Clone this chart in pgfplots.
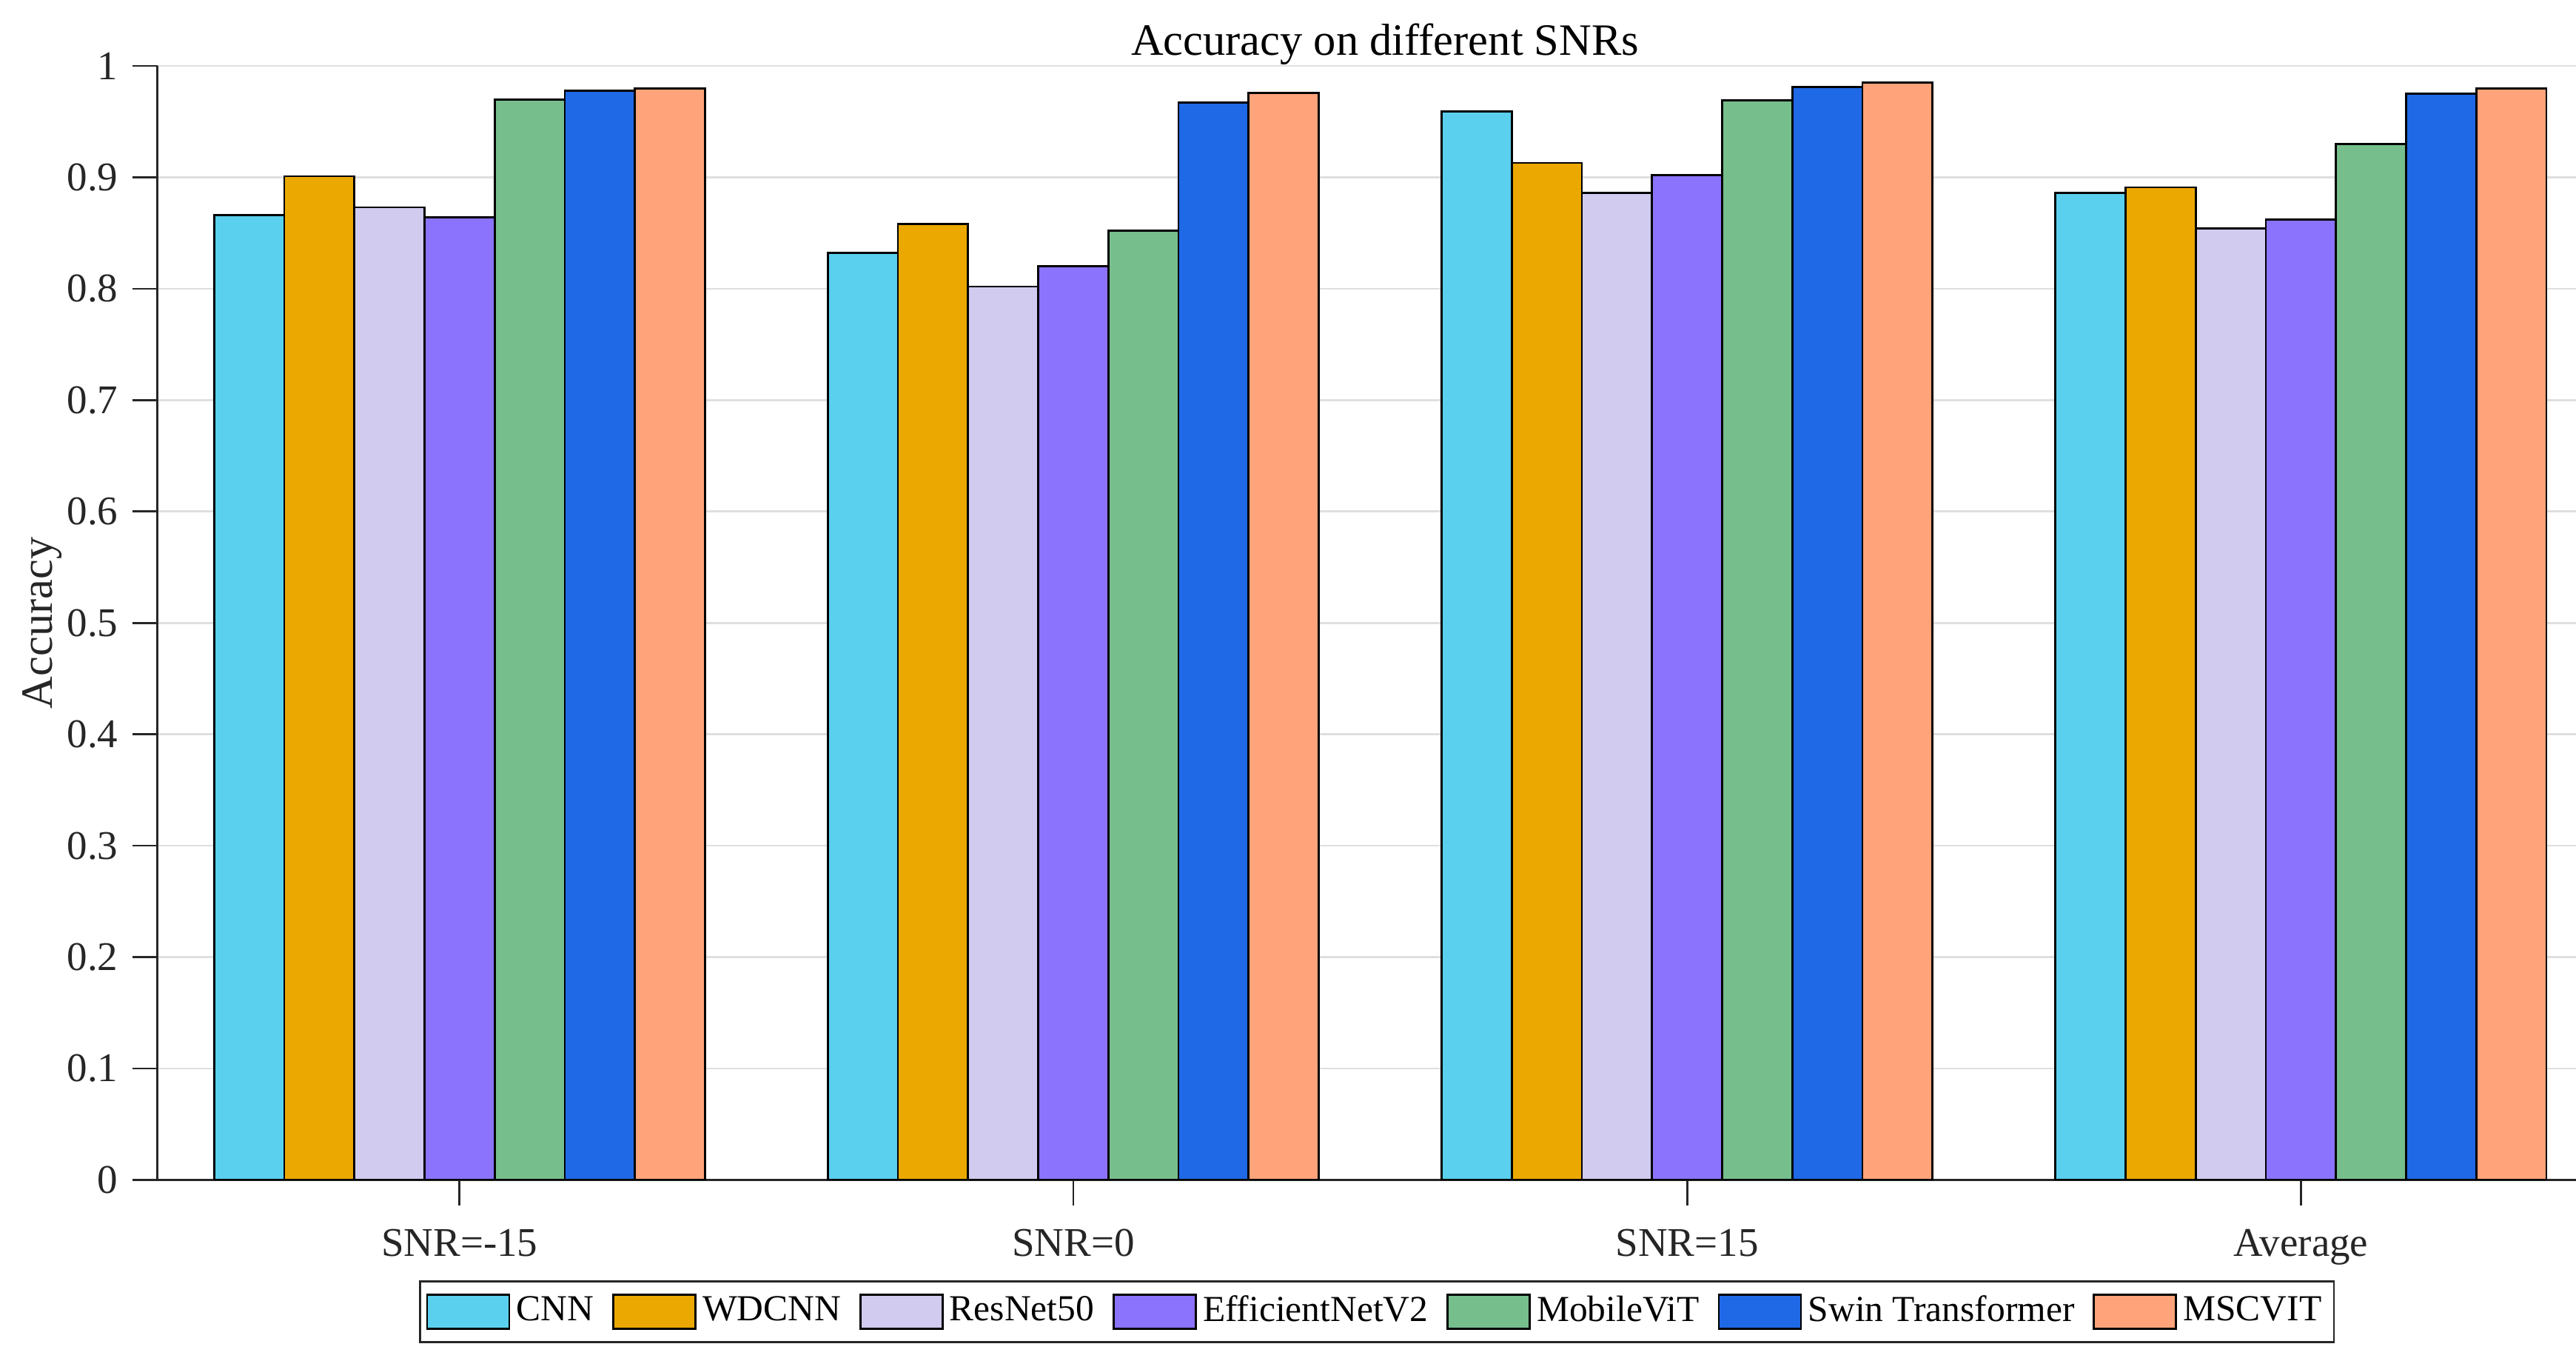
\documentclass[border=0pt]{standalone}
\usepackage{fontspec}
\setmainfont{Liberation Serif}
\usepackage{pgfplots}
\pgfplotsset{compat=1.18}

\definecolor{axgray}{RGB}{38,38,38}
\definecolor{gridgray}{RGB}{223,223,223}
\definecolor{cCNN}{RGB}{90,208,238}
\definecolor{cWDCNN}{RGB}{235,168,0}
\definecolor{cRes}{RGB}{208,203,239}
\definecolor{cEff}{RGB}{140,115,253}
\definecolor{cMob}{RGB}{119,190,141}
\definecolor{cSwin}{RGB}{31,105,230}
\definecolor{cMSC}{RGB}{255,163,122}

\begin{document}
\begin{tikzpicture}
\path[use as bounding box] (-38.7pt,-44.4pt) rectangle (594pt,289.7pt);
\begin{axis}[
  scale only axis,
  width=603pt, height=273.5pt,
  xmin=0.508, xmax=4.508, ymin=0, ymax=1,
  ybar,
  bar width=0.114286,
  every axis plot/.append style={
    draw=black, line width=0.5pt,
    legend image code/.code={\draw[##1] (0pt,-4.2pt) rectangle (20.2pt,4.2pt);}
  },
  axis x line*=bottom, axis y line*=left,
  axis line style={draw=axgray, line width=0.5pt, -},
  tick align=outside, major tick length=6.2pt,
  tick style={draw=axgray, line width=0.5pt},
  xtick={1,2,3,4},
  xticklabels={{SNR=-15},{SNR=0},{SNR=15},{Average}},
  xticklabel style={yshift=-2.4pt},
  ytick={0,0.1,0.2,0.3,0.4,0.5,0.6,0.7,0.8,0.9,1},
  yticklabel style={/pgf/number format/fixed},
  /pgf/number format/assume math mode=true,
  tick label style={font=\fontsize{10}{12}\selectfont, text=axgray},
  ymajorgrids, grid style={draw=gridgray, line width=0.5pt},
  ylabel={Accuracy},
  ylabel style={at={(axis description cs:0,0.5)}, anchor=north, inner sep=0pt,
    yshift=33.3pt, font=\fontsize{11}{13}\selectfont, text=axgray},
  title={Accuracy on different SNRs},
  every axis title shift=0pt,
  title style={at={(axis description cs:0.5,1)}, anchor=base, yshift=2.7pt,
    font=\fontsize{11}{13}\selectfont},
  legend columns=7,
  legend cell align=left,
  legend style={at={(axis description cs:0.5,0)}, anchor=center,
    xshift=-2pt, yshift=-32.4pt,
    draw=axgray, line width=0.5pt, inner xsep=1.5pt, inner ysep=1.5pt,
    font=\fontsize{9}{11}\selectfont,
    nodes={inner xsep=1.5pt, inner ysep=2pt},
    /tikz/every even column/.append style={column sep=3pt}},
]
\addplot[fill=cCNN, bar shift=-0.342857] coordinates {(1,0.866) (2,0.832) (3,0.959) (4,0.886)};
\addplot[fill=cWDCNN, bar shift=-0.228571] coordinates {(1,0.901) (2,0.858) (3,0.913) (4,0.891)};
\addplot[fill=cRes, bar shift=-0.114286] coordinates {(1,0.873) (2,0.802) (3,0.886) (4,0.854)};
\addplot[fill=cEff, bar shift=0] coordinates {(1,0.864) (2,0.820) (3,0.902) (4,0.862)};
\addplot[fill=cMob, bar shift=0.114286] coordinates {(1,0.970) (2,0.852) (3,0.969) (4,0.930)};
\addplot[fill=cSwin, bar shift=0.228571] coordinates {(1,0.978) (2,0.967) (3,0.981) (4,0.975)};
\addplot[fill=cMSC, bar shift=0.342857] coordinates {(1,0.980) (2,0.976) (3,0.985) (4,0.980)};
\legend{CNN, WDCNN, ResNet50, EfficientNetV2, MobileViT, Swin Transformer, MSCVIT}
\end{axis}
\end{tikzpicture}
\end{document}
